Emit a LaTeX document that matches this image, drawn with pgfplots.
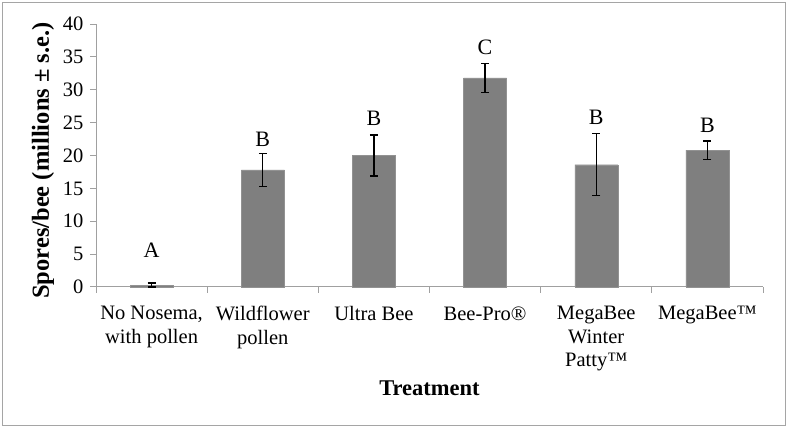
\documentclass[border=0pt]{standalone}
\usepackage{pgfplots}
\pgfplotsset{compat=1.18}
\usepackage{fontspec}
\setmainfont{Liberation Serif}
\definecolor{barfill}{RGB}{127,127,127}
\definecolor{axgray}{RGB}{160,160,160}
\definecolor{framegray}{RGB}{165,165,165}
\begin{document}
\begin{tikzpicture}
\useasboundingbox (0,0) rectangle (788pt,428pt);
\draw[framegray, line width=1.8pt] (2.5pt,2.5pt) rectangle (785.5pt,425.5pt);
\begin{axis}[
  at={(96pt,141pt)}, anchor=south west,
  scale only axis, width=667pt, height=263pt,
  xmin=-0.5, xmax=5.5, ymin=0, ymax=40,
  ytick={0,5,...,40},
  xtick={0,1,2,3,4,5},
  xticklabels={{No Nosema,\\with pollen},{Wildflower\\pollen},{Ultra Bee},{Bee-Pro®},{MegaBee\\Winter\\Patty™},{MegaBee™}},
  minor xtick={-0.5,0.5,1.5,2.5,3.5,4.5,5.5},
  major x tick style={draw=none},
  minor tick length=6pt, major tick length=6pt,
  tick align=outside,
  x tick style={axgray, line width=1pt},
  y tick style={axgray, line width=1pt},
  axis x line*=bottom, axis y line*=left,
  axis line style={axgray, line width=1pt, -},
  tick label style={font=\fontsize{20.5}{23.5}\selectfont},
  xticklabel style={align=center, anchor=north, yshift=-10pt},
  yticklabel style={xshift=-3pt},
  /pgf/number format/assume math mode=true,
  every axis y label/.style={at={(rel axis cs:0,0.5)}, xshift=-53pt, yshift=-5pt, rotate=90, anchor=center},
  every axis x label/.style={at={(rel axis cs:0.5,0)}, yshift=-108.7pt, anchor=base},
  ylabel={\fontsize{24.5}{26}\selectfont\bfseries Spores/bee (millions ± s.e.)},
  xlabel={\fontsize{22.5}{24}\selectfont\bfseries Treatment},
  clip=false,
]
\addplot[ybar, bar width=43pt, bar shift=0pt, fill=barfill, draw=barfill!85!white,
  error bars/.cd, y dir=both, y explicit,
  error bar style={black, line width=1.3pt},
  error mark options={black, rotate=90, mark size=4pt, line width=1.3pt}]
coordinates {
  (0,0.3) +- (0,0.3)
  (1,17.8) +- (0,2.55)
  (2,20.0) +- (0,3.1)
  (3,31.8) +- (0,2.2)
  (4,18.6) +- (0,4.7)
  (5,20.8) +- (0,1.4)
};
\node[anchor=base, font=\fontsize{22}{24}\selectfont] at (axis cs:0,4.56) {A};
\node[anchor=base, font=\fontsize{22}{24}\selectfont] at (axis cs:1,21.3) {B};
\node[anchor=base, font=\fontsize{22}{24}\selectfont] at (axis cs:2,24.5) {B};
\node[anchor=base, font=\fontsize{22}{24}\selectfont] at (axis cs:3,35.3) {C};
\node[anchor=base, font=\fontsize{22}{24}\selectfont] at (axis cs:4,24.7) {B};
\node[anchor=base, font=\fontsize{22}{24}\selectfont] at (axis cs:5,23.5) {B};
\end{axis}
\end{tikzpicture}
\end{document}
